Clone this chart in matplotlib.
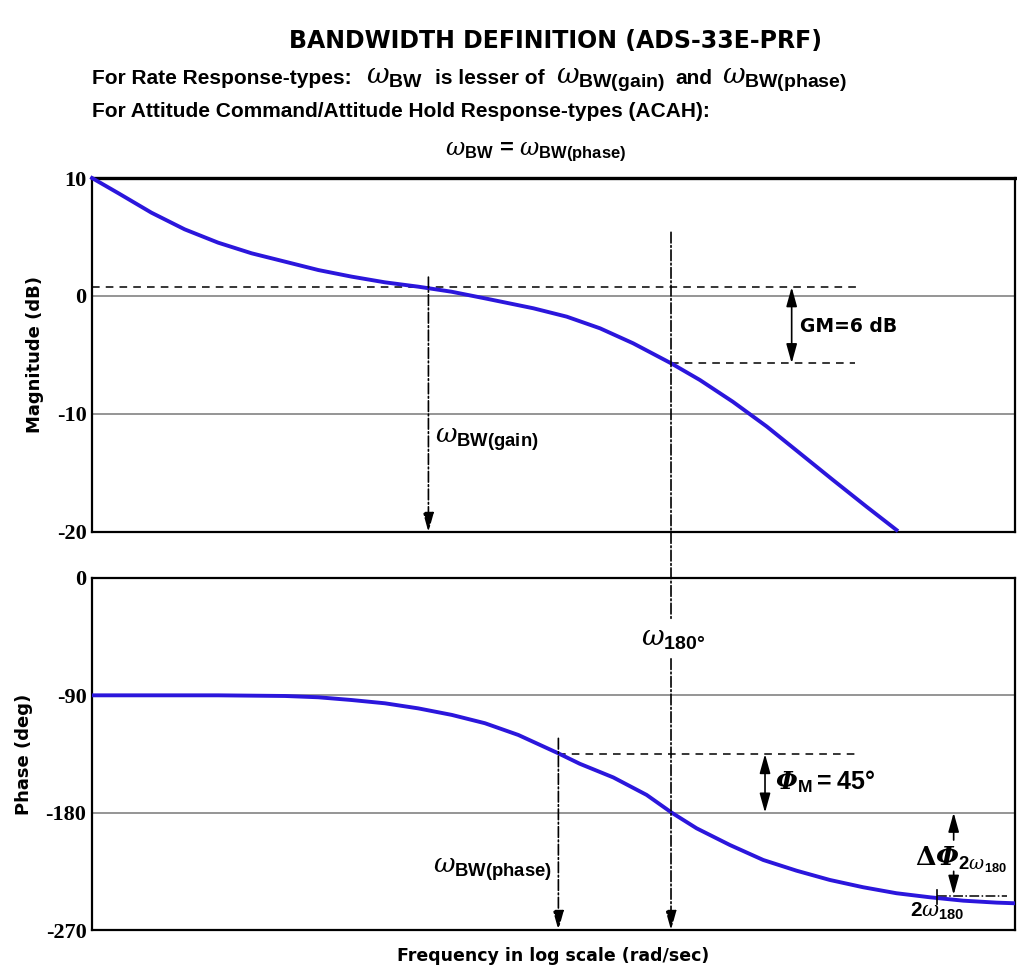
import matplotlib
matplotlib.use("Agg")
import matplotlib.pyplot as plt
from matplotlib.patches import ConnectionPatch

plt.rcParams["axes.unicode_minus"] = False
plt.rcParams["mathtext.fontset"] = "custom"
plt.rcParams["mathtext.it"] = "DejaVu Serif:italic"
plt.rcParams["mathtext.rm"] = "Liberation Sans:bold"
plt.rcParams["mathtext.bf"] = "Liberation Sans:bold"
plt.rcParams["mathtext.cal"] = "DejaVu Serif:italic:bold"
plt.rcParams["mathtext.sf"] = "DejaVu Serif:bold"

# magnitude curve, frequency in rad/s
mag_freq = [0.1, 0.122, 0.156, 0.200, 0.257, 0.330, 0.424, 0.544, 0.698,
            0.895, 1.149, 1.476, 1.893, 2.718, 3.49, 4.48, 5.74, 7.62,
            9.46, 12.1, 15.6, 20.0, 25.6, 32.9, 41.2]
mag_db = [10, 8.70, 7.06, 5.65, 4.52, 3.62, 2.91, 2.20, 1.64,
          1.16, 0.79, 0.36, -0.20, -1.04, -1.75, -2.74, -4.01, -5.70,
          -7.12, -8.96, -11.06, -13.33, -15.59, -17.85, -19.83]

# phase curve
ph_freq = [0.1, 0.156, 0.257, 0.424, 0.544, 0.698, 0.895, 1.149, 1.476,
           1.893, 2.43, 3.28, 3.85, 4.95, 6.35, 7.66, 9.23, 11.84, 15.2,
           19.5, 25.0, 32.1, 41.2, 52.9, 67.9, 87.1, 100.0]
ph_deg = [-90, -90, -90, -90.5, -91.5, -93.6, -96.1, -100, -105,
          -111.4, -120.4, -134.5, -142.5, -153, -166.4, -180, -192, -204.8,
          -216.3, -224.5, -231.6, -237.2, -241.8, -244.9, -247.5, -249, -249.5]

mag_ticks = [10, 0, -10, -20]
ph_ticks = [0, -90, -180, -270]

w_bw_gain = 1.24
w_bw_phase = 3.28
w_180 = 7.62
w2_180 = 55.7
gain_bw_level = 0.75
gain_at_180 = -5.7

blue = "#2b16dc"
grid_c = "#8c8c8c"
tick_font = "Liberation Serif"
lab_font = "DejaVu Sans"
sub_font = "Liberation Sans"

fig = plt.figure(figsize=(10.17, 9.77), dpi=100)
ax1 = fig.add_axes([0.0905, 0.4555, 0.9075, 0.3623])
ax2 = fig.add_axes([0.0905, 0.0481, 0.9075, 0.3603])

for ax, ticks in ((ax1, mag_ticks), (ax2, ph_ticks)):
    ax.set_xscale("log")
    ax.set_xlim(0.1, 100)
    ax.set_ylim(ticks[-1], ticks[0])
    ax.set_yticks(ticks)
    ax.set_xticks([])
    ax.minorticks_off()
    ax.tick_params(axis="y", length=0, pad=4)
    for lbl in ax.get_yticklabels():
        lbl.set_fontfamily(tick_font)
        lbl.set_fontweight("bold")
        lbl.set_fontsize(16)
    for s in ax.spines.values():
        s.set_linewidth(1.6)
    for t in ticks[1:-1]:
        ax.axhline(t, color=grid_c, lw=1.3, zorder=1)
ax1.spines["top"].set_linewidth(2.4)

ax1.plot(mag_freq, mag_db, color=blue, lw=2.8, zorder=3, clip_on=False)
ax2.plot(ph_freq, ph_deg, color=blue, lw=2.8, zorder=3)

ax1.set_ylabel("Magnitude (dB)", fontfamily=lab_font, fontweight="bold",
               fontsize=13, labelpad=9)
ax2.set_ylabel("Phase (deg)", fontfamily=lab_font, fontweight="bold",
               fontsize=13, labelpad=9)
ax2.set_xlabel("Frequency in log scale (rad/sec)", fontfamily=lab_font,
               fontweight="bold", fontsize=12.5, labelpad=12)

arrow = dict(arrowstyle="-|>,head_length=0.9,head_width=0.25", color="black",
             lw=1.2, mutation_scale=13, shrinkA=0, shrinkB=0)
darrow = dict(arrow, arrowstyle="<|-|>,head_length=0.9,head_width=0.25")

# ---- magnitude annotations
ax1.plot([0.1, 31.3], [gain_bw_level, gain_bw_level], ls=(0, (5, 4)),
         color="black", lw=1.1, zorder=2)
ax1.plot([w_180, 30.2], [gain_at_180, gain_at_180], ls=(0, (5, 4)),
         color="black", lw=1.1, zorder=2)
ax1.annotate("", xy=(18.8, gain_bw_level), xytext=(18.8, gain_at_180),
             arrowprops=darrow)
ax1.text(20.0, -2.6, "GM=6 dB", fontfamily=lab_font, fontweight="bold",
         fontsize=13.5, va="center", ha="left")
ax1.annotate("", xy=(w_bw_gain, -20), xytext=(w_bw_gain, 1.6),
             arrowprops=dict(arrow, linestyle="-."))
ax1.text(1.30, -12.2, r"$\omega_{\mathbf{BW(gain)}}$", fontsize=19,
         va="center", ha="left")

# omega 180 vertical line through both panels
con = ConnectionPatch(xyA=(w_180, 5.4), coordsA=ax1.transData,
                      xyB=(w_180, -32), coordsB=ax2.transData,
                      linestyle="-.", color="black", lw=1.2)
fig.add_artist(con)
ax2.annotate("", xy=(w_180, -270), xytext=(w_180, -62),
             arrowprops=dict(arrow, linestyle="-."))
ax2.text(7.75, -46, r"$\omega_{\mathbf{180\degree}}$", fontsize=20,
         va="center", ha="center")

# ---- phase annotations
ax2.plot([w_bw_phase, 31.3], [-135, -135], ls=(0, (5, 4)), color="black",
         lw=1.1, zorder=2)
ax2.annotate("", xy=(w_bw_phase, -270), xytext=(w_bw_phase, -123),
             arrowprops=dict(arrow, linestyle="-."))
ax2.text(3.13, -224, r"$\omega_{\mathbf{BW(phase)}}$", fontsize=19,
         va="center", ha="right")
ax2.annotate("", xy=(15.4, -135), xytext=(15.4, -180), arrowprops=darrow)
ax2.text(16.6, -156, r"$\mathcal{\Phi}_{\mathbf{M}}\mathbf{= 45\degree}$",
         fontsize=18, va="center", ha="left")

ax2.annotate("", xy=(63.2, -180), xytext=(63.2, -201), arrowprops=arrow)
ax2.annotate("", xy=(63.2, -243), xytext=(63.2, -225), arrowprops=arrow)
ax2.text(67.0, -216,
         r"$\mathsf{\Delta}\mathcal{\Phi}_{\mathbf{2}\omega_{\mathbf{180}}}$",
         fontsize=19, va="center", ha="center")
ax2.plot([w2_180, 94.2], [-244, -244], ls="-.", color="black", lw=1.1, zorder=2)
ax2.plot([w2_180, w2_180], [-239, -250], color="black", lw=1.2, zorder=4)
ax2.text(w2_180, -256, r"$\mathbf{2}\omega_{\mathbf{180}}$", fontsize=15,
         va="center", ha="center")

# ---- titles
fig.text(0.546, 0.958, "BANDWIDTH DEFINITION (ADS-33E-PRF)",
         fontfamily=lab_font, fontweight="bold", fontsize=17,
         ha="center", va="center")

renderer = fig.canvas.get_renderer()
line1 = [("For Rate Response-types:", 15, 14),
         (r"$\omega_{\mathbf{BW}}$", 20, 12),
         ("is lesser of", 15, 12),
         (r"$\omega_{\mathbf{BW(gain)}}$", 20, 10),
         ("and", 15, 10),
         (r"$\omega_{\mathbf{BW(phase)}}$", 20, 0)]
x_px = 92
for txt, size, gap in line1:
    t = fig.text(x_px / 1017, 1 - 84 / 977, txt, fontfamily=sub_font,
                 fontweight="bold", fontsize=size, ha="left", va="baseline")
    x_px += t.get_window_extent(renderer).width + gap

fig.text(92 / 1017, 1 - 117 / 977,
         "For Attitude Command/Attitude Hold Response-types (ACAH):",
         fontfamily=sub_font, fontweight="bold", fontsize=15,
         ha="left", va="baseline")
fig.text(0.527, 1 - 155 / 977,
         r"$\omega_{\mathbf{BW}}$ = $\omega_{\mathbf{BW(phase)}}$",
         fontfamily=sub_font, fontweight="bold", fontsize=17,
         ha="center", va="baseline")

fig.savefig("out.png", dpi=100)
